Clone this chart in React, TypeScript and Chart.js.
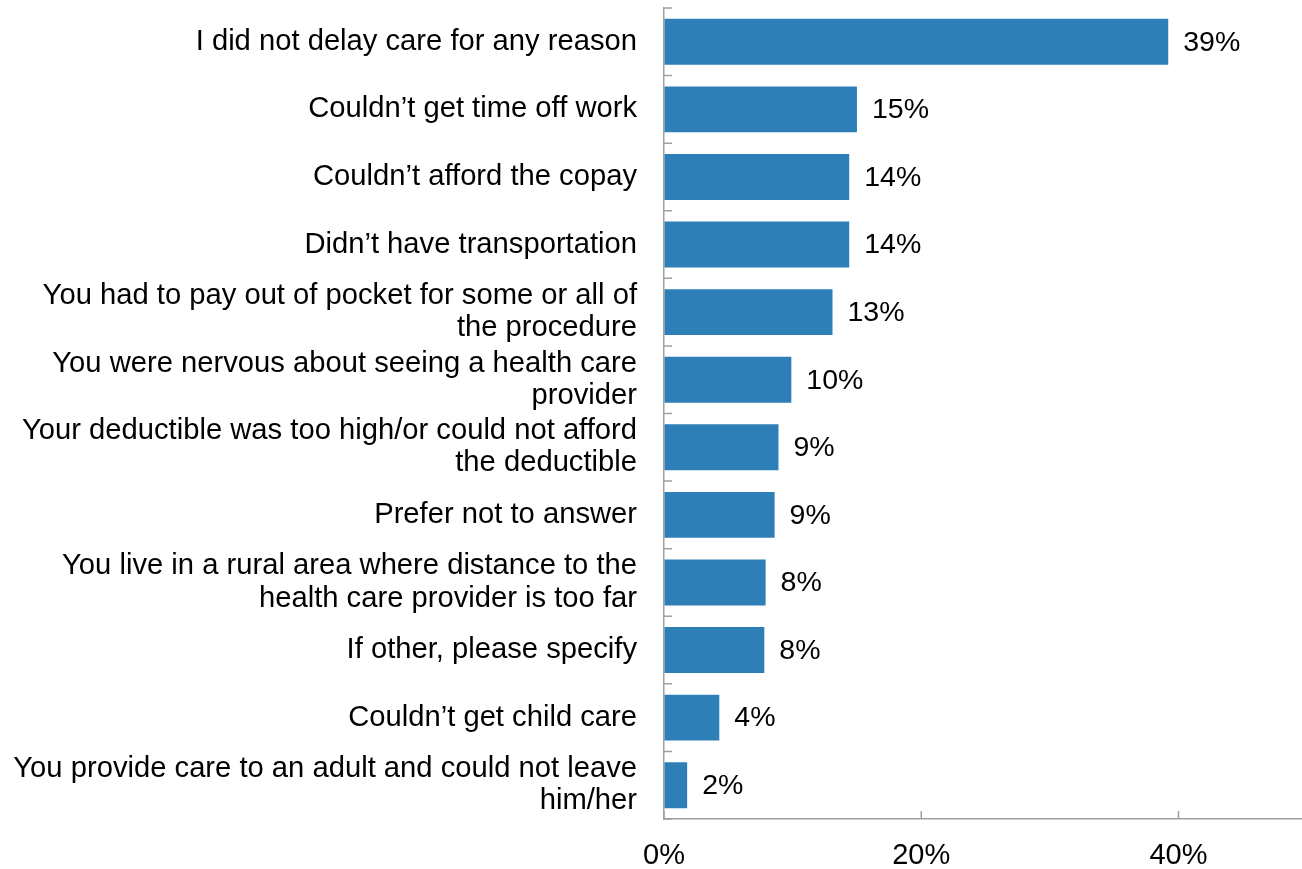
import React, { useEffect, useRef } from "react";
import { Chart, registerables } from "chart.js";

Chart.register(...registerables);

const categories: (string | string[])[] = [
  "I did not delay care for any reason",
  "Couldn’t get time off work",
  "Couldn’t afford the copay",
  "Didn’t have transportation",
  ["You had to pay out of pocket for some or all of", "the procedure"],
  ["You were nervous about seeing a health care", "provider"],
  ["Your deductible was too high/or could not afford", "the deductible"],
  "Prefer not to answer",
  ["You live in a rural area where distance to the", "health care provider is too far"],
  "If other, please specify",
  "Couldn’t get child care",
  ["You provide care to an adult and could not leave", "him/her"],
];

const values: number[] = [39.2, 15.0, 14.4, 14.4, 13.1, 9.9, 8.9, 8.6, 7.9, 7.8, 4.3, 1.8];
const valueLabels: string[] = ["39%", "15%", "14%", "14%", "13%", "10%", "9%", "9%", "8%", "8%", "4%", "2%"];
const xTickValues: number[] = [0, 20, 40];

const FONT = "'Liberation Sans', Arial, sans-serif";
const AXIS_COLOR = "#a0a0a0";

const innerTicksPlugin = {
  id: "innerTicks",
  afterDraw(chart: any) {
    const ctx = chart.ctx;
    const xs = chart.scales.x;
    const ys = chart.scales.y;
    const area = chart.chartArea;
    ctx.save();
    ctx.strokeStyle = AXIS_COLOR;
    ctx.lineWidth = 1.5;
    ctx.beginPath();
    const n = categories.length;
    for (let i = 0; i <= n; i++) {
      const y = ys.getPixelForValue(i - 0.5);
      ctx.moveTo(area.left, y);
      ctx.lineTo(area.left + 8, y);
    }
    xTickValues.forEach((v) => {
      const x = xs.getPixelForValue(v);
      ctx.moveTo(x, area.bottom);
      ctx.lineTo(x, area.bottom - 8);
    });
    ctx.stroke();
    ctx.restore();
  },
};

const dataLabelPlugin = {
  id: "dataLabels",
  afterDatasetsDraw(chart: any) {
    const ctx = chart.ctx;
    const meta = chart.getDatasetMeta(0);
    ctx.save();
    ctx.font = `28.5px ${FONT}`;
    ctx.fillStyle = "#000";
    ctx.textAlign = "left";
    ctx.textBaseline = "middle";
    meta.data.forEach((bar: any, i: number) => {
      ctx.fillText(valueLabels[i], bar.x + 15, bar.y + 1);
    });
    ctx.restore();
  },
};

export default function App() {
  const canvasRef = useRef<HTMLCanvasElement | null>(null);

  useEffect(() => {
    if (!canvasRef.current) return;
    const chart = new Chart(canvasRef.current, {
      type: "bar",
      data: {
        labels: categories,
        datasets: [
          {
            data: values,
            backgroundColor: "#2e7fb8",
            barPercentage: 0.68,
            categoryPercentage: 1,
          },
        ],
      },
      options: {
        indexAxis: "y",
        animation: false,
        responsive: true,
        maintainAspectRatio: false,
        layout: { padding: { top: 8, right: 0, bottom: 0, left: 0 } },
        plugins: {
          legend: { display: false },
          tooltip: { enabled: false },
        },
        scales: {
          x: {
            min: 0,
            max: 49.6,
            afterBuildTicks: (scale: any) => {
              scale.ticks = xTickValues.map((v) => ({ value: v }));
            },
            afterFit: (scale: any) => {
              scale.height = 50;
              scale.paddingLeft = 0;
              scale.paddingRight = 0;
            },
            grid: { display: true, drawOnChartArea: false, drawTicks: false },
            border: { display: true, color: AXIS_COLOR, width: 1.5 },
            ticks: {
              padding: 20,
              color: "#000",
              font: { family: FONT, size: 29 },
              callback: (v: any) => `${v}%`,
              maxRotation: 0,
            },
          },
          y: {
            afterFit: (scale: any) => {
              scale.width = 664;
              scale.paddingTop = 0;
              scale.paddingBottom = 0;
            },
            grid: { display: true, drawOnChartArea: false, drawTicks: false },
            border: { display: true, color: AXIS_COLOR, width: 1.5 },
            ticks: {
              padding: 27,
              color: "#000",
              font: { family: FONT, size: 29.2, lineHeight: 1.1 },
              autoSkip: false,
            },
          },
        },
      },
      plugins: [innerTicksPlugin, dataLabelPlugin],
    });
    return () => chart.destroy();
  }, []);

  return (
    <div style={{ position: "absolute", left: 0, top: 0, width: 1302, height: 869, background: "#fff" }}>
      <canvas ref={canvasRef} />
    </div>
  );
}
